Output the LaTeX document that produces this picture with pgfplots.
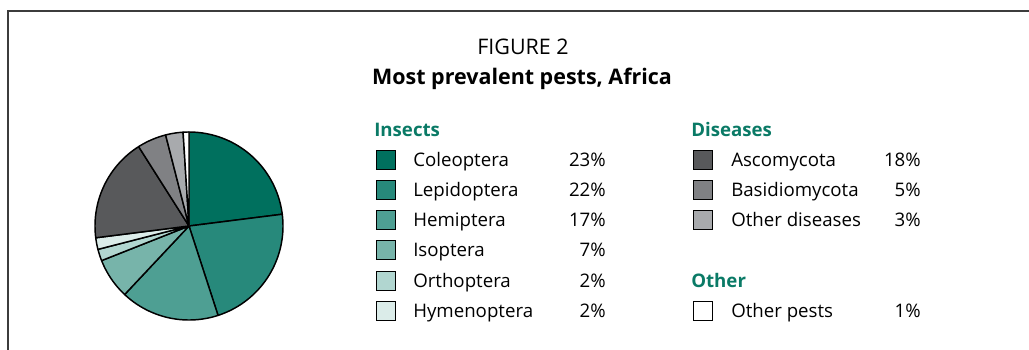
\documentclass[border=0pt]{standalone}
\usepackage{fontspec}
\setmainfont{Open Sans}
\usepackage{pgfplots}
\usepackage{pgfplotstable}
\pgfplotsset{compat=1.18}

\definecolor{c1}{HTML}{00705E}
\definecolor{c2}{HTML}{27897B}
\definecolor{c3}{HTML}{4E9F93}
\definecolor{c4}{HTML}{77B4AA}
\definecolor{c5}{HTML}{B1D6D0}
\definecolor{c6}{HTML}{DBECE9}
\definecolor{c7}{HTML}{58595B}
\definecolor{c8}{HTML}{808184}
\definecolor{c9}{HTML}{A8AAAD}
\definecolor{c10}{HTML}{FFFFFF}
\definecolor{head}{HTML}{0A7A66}
\definecolor{frame}{HTML}{3C3C3C}

\pgfplotstableread{
name value color
Coleoptera 23 c1
Lepidoptera 22 c2
Hemiptera 17 c3
Isoptera 7 c4
Orthoptera 2 c5
Hymenoptera 2 c6
Ascomycota 18 c7
Basidiomycota 5 c8
Otherdiseases 3 c9
Otherpests 1 c10
}\piedata

\begin{document}
\begin{tikzpicture}[x=0.75pt,y=0.75pt]
\useasboundingbox (0,0) rectangle (1029,-350);
% frame
\draw[frame, line width=1.5pt] (8,-352) -- (8,-11) -- (1031,-11);

% pie
\begin{axis}[
  at={(141.75pt,-169.5pt)}, anchor=center,
  x=70.5pt, y=70.5pt,
  xmin=-1, xmax=1, ymin=-1, ymax=1,
  hide axis, clip=false,
]
\def\cum{0}
\pgfplotsforeachungrouped \i in {0,...,9} {
  \pgfplotstablegetelem{\i}{value}\of\piedata \let\v\pgfplotsretval
  \pgfplotstablegetelem{\i}{color}\of\piedata \let\c\pgfplotsretval
  \pgfmathsetmacro\a{90-3.6*\cum}
  \pgfmathsetmacro\b{90-3.6*(\cum+\v)}
  \edef\temp{\noexpand\addplot[fill=\c, draw=black, line width=1.1pt, line join=round, domain=\b:\a, samples=60] ({cos(x)},{sin(x)}) -- (axis cs:0,0) -- cycle;}
  \temp
  \pgfmathsetmacro\cum{\cum+\v}
}
\end{axis}

% titles
\node[anchor=base, inner sep=0pt, font=\fontsize{16.1}{19}\selectfont] at (523,-54) {FIGURE 2};
\node[anchor=base, inner sep=0pt, font=\fontsize{16.1}{19}\selectfont\bfseries] at (522,-84) {Most prevalent pests, Africa};

% legend
\begin{scope}[every node/.style={font=\fontsize{14}{17}\selectfont, inner sep=0pt}]
\node[anchor=base west, text=head, font=\fontsize{14}{17}\selectfont\bfseries] at (374,-136) {Insects};
\node[anchor=base west, text=head, font=\fontsize{14}{17}\selectfont\bfseries] at (691,-136) {Diseases};
\node[anchor=base west, text=head, font=\fontsize{14}{17}\selectfont\bfseries] at (691,-287) {Other};

\foreach \y/\c/\n/\p in {160/c1/Coleoptera/23, 190/c2/Lepidoptera/22, 220/c3/Hemiptera/17, 250/c4/Isoptera/7, 281/c5/Orthoptera/2, 311/c6/Hymenoptera/2} {
  \draw[fill=\c, draw=black, line width=1pt] (376.5,-\y-9.5) rectangle (395.5,-\y+9.5);
  \node[anchor=base west] at (413,-\y-6) {\n};
  \node[anchor=base east] at (606,-\y-6) {\p\%};
}
\foreach \y/\c/\n/\p in {160/c7/Ascomycota/18, 190/c8/Basidiomycota/5, 220/c9/Other diseases/3, 311/c10/Other pests/1} {
  \draw[fill=\c, draw=black, line width=1pt] (693.5,-\y-9.5) rectangle (712.5,-\y+9.5);
  \node[anchor=base west] at (731,-\y-6) {\n};
  \node[anchor=base east] at (921,-\y-6) {\p\%};
}
\end{scope}
\end{tikzpicture}
\end{document}
